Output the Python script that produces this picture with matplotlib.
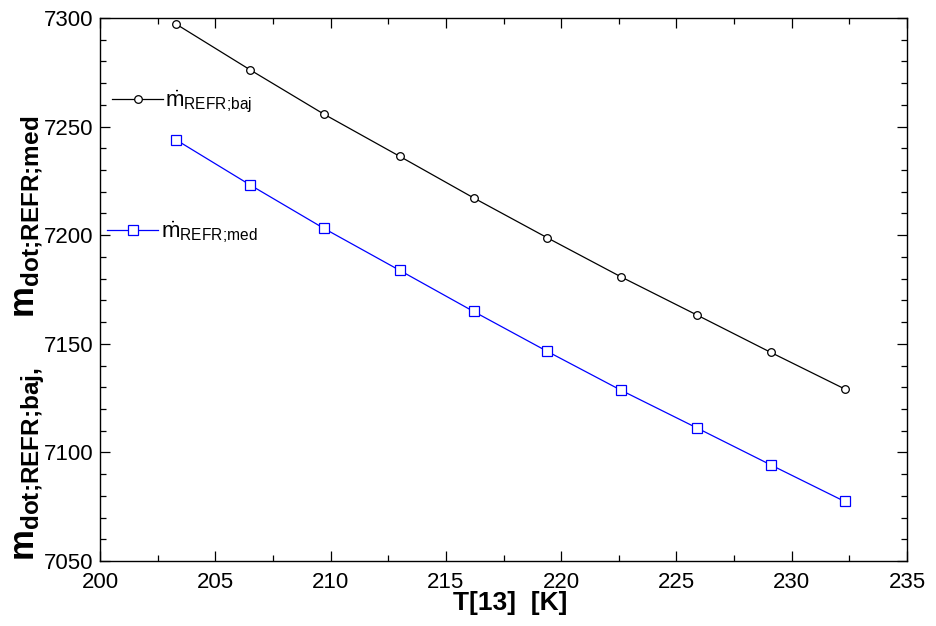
import matplotlib
matplotlib.use("Agg")
import matplotlib.pyplot as plt
from matplotlib.ticker import MultipleLocator

# data
t13 = [203.3, 206.5, 209.7, 213.0, 216.2, 219.4, 222.6, 225.9, 229.1, 232.3]
m_baj = [7297.2, 7276.2, 7255.8, 7236.3, 7217.2, 7198.8, 7180.8, 7163.2, 7146.0, 7129.2]
m_med = [7243.9, 7223.2, 7203.2, 7183.8, 7164.9, 7146.5, 7128.6, 7111.2, 7094.2, 7077.4]

plt.rcParams['font.family'] = ['Liberation Sans', 'DejaVu Sans']
plt.rcParams['mathtext.fontset'] = 'custom'
plt.rcParams['mathtext.rm'] = 'Liberation Sans'
plt.rcParams['mathtext.it'] = 'Liberation Sans:italic'
plt.rcParams['mathtext.bf'] = 'Liberation Sans:bold'

SC = '\u037e'  # semicolon glyph without mathtext punctuation spacing

fig = plt.figure(figsize=(9.37, 6.26), dpi=100)
ax = fig.add_axes([100/937, 1-561/626, 807/937, 543/626])

l1, = ax.plot(t13, m_baj, color='black', lw=0.9, marker='o', ms=5.5,
              mfc='white', mec='black', mew=0.9)
l2, = ax.plot(t13, m_med, color='blue', lw=0.9, marker='s', ms=7,
              mfc='white', mec='blue', mew=0.9)

ax.set_xlim(200, 235)
ax.set_ylim(7050, 7300)
ax.xaxis.set_major_locator(MultipleLocator(5))
ax.xaxis.set_minor_locator(MultipleLocator(2.5))
ax.yaxis.set_major_locator(MultipleLocator(50))
ax.yaxis.set_minor_locator(MultipleLocator(10))
ax.tick_params(which='both', direction='in', top=True, right=True, labelsize=16)
ax.tick_params(which='major', length=7, width=0.9)
ax.tick_params(which='minor', length=4, width=0.9)
ax.tick_params(axis='x', pad=8)
ax.tick_params(axis='y', pad=5)
for s in ax.spines.values():
    s.set_linewidth(1.0)

ax.set_xlabel('T[13]  [K]', fontsize=19, fontweight='bold', labelpad=-1)
ax.xaxis.set_label_coords(0.508, -0.055)
ylab = (r'$\mathbf{m}_{\mathbf{dot' + SC + 'REFR' + SC + r'baj,}}\quad\;\;'
        r'\mathbf{m}_{\mathbf{dot' + SC + 'REFR' + SC + r'med}}$')
ax.set_ylabel(ylab, fontsize=25)
ax.yaxis.set_label_coords(-0.066, 0.41)

leg1 = ax.legend([l1], [r'$\dot{\mathrm{m}}_{\mathrm{REFR' + SC + r'baj}}$'], loc='center left',
                 bbox_to_anchor=(0.004, 0.845), frameon=False, fontsize=16,
                 handlelength=2.3, handletextpad=0.1, borderaxespad=0)
ax.add_artist(leg1)
ax.legend([l2], [r'$\dot{\mathrm{m}}_{\mathrm{REFR' + SC + r'med}}$'], loc='center left',
          bbox_to_anchor=(-0.002, 0.605), frameon=False, fontsize=16,
          handlelength=2.3, handletextpad=0.1, borderaxespad=0)

fig.savefig('out.png', dpi=100)
